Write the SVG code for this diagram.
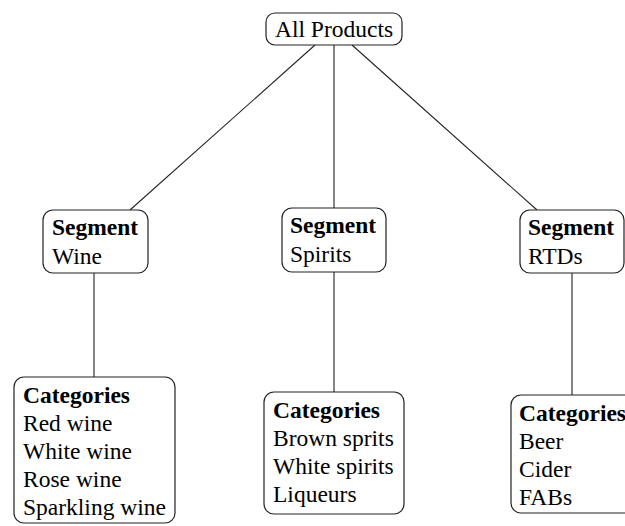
<svg xmlns="http://www.w3.org/2000/svg" width="625" height="526" viewBox="0 0 625 526">
<style>
.box{fill:#fff;stroke:#222;stroke-width:1.2}
.t{font-family:"Liberation Serif","Times New Roman",serif;font-size:23.5px;fill:#000}
.b{font-weight:bold}
.c{stroke:#222;stroke-width:1.1;fill:none}
</style>
<rect width="625" height="526" fill="#fff"/>
<g id="connectors">
<line class="c" x1="315" y1="45" x2="130" y2="210"/>
<line class="c" x1="334" y1="45" x2="334" y2="208"/>
<line class="c" x1="352" y1="45" x2="537" y2="210"/>
<line class="c" x1="94" y1="273" x2="94" y2="377"/>
<line class="c" x1="334" y1="272" x2="334" y2="392"/>
<line class="c" x1="572" y1="273" x2="572" y2="395"/>
</g>
<g id="all-products">
<rect class="box" x="266" y="13" width="136" height="32" rx="9"/>
<text class="t" x="334" y="37" text-anchor="middle">All Products</text>
</g>
<g id="seg-wine">
<rect class="box" x="43" y="210" width="105" height="63" rx="10"/>
<text class="t b" x="52" y="235">Segment</text>
<text class="t" x="52" y="264">Wine</text>
</g>
<g id="seg-spirits">
<rect class="box" x="282" y="208" width="104" height="64" rx="10"/>
<text class="t b" x="290" y="233">Segment</text>
<text class="t" x="290" y="262">Spirits</text>
</g>
<g id="seg-rtds">
<rect class="box" x="520" y="210" width="104" height="63" rx="10"/>
<text class="t b" x="528" y="235">Segment</text>
<text class="t" x="528" y="264">RTDs</text>
</g>
<g id="cat-wine">
<rect class="box" x="14" y="377" width="161" height="146" rx="10"/>
<text class="t b" x="23" y="403">Categories</text>
<text class="t" x="23" y="431">Red wine</text>
<text class="t" x="23" y="459">White wine</text>
<text class="t" x="23" y="487">Rose wine</text>
<text class="t" x="23" y="515">Sparkling wine</text>
</g>
<g id="cat-spirits">
<rect class="box" x="264" y="392" width="140" height="122" rx="10"/>
<text class="t b" x="273" y="418">Categories</text>
<text class="t" x="273" y="446">Brown sprits</text>
<text class="t" x="273" y="474">White spirits</text>
<text class="t" x="273" y="502">Liqueurs</text>
</g>
<g id="cat-rtds">
<rect class="box" x="511" y="395" width="140" height="118" rx="10"/>
<text class="t b" x="519" y="421">Categories</text>
<text class="t" x="519" y="449">Beer</text>
<text class="t" x="519" y="477">Cider</text>
<text class="t" x="519" y="505">FABs</text>
</g>
</svg>
